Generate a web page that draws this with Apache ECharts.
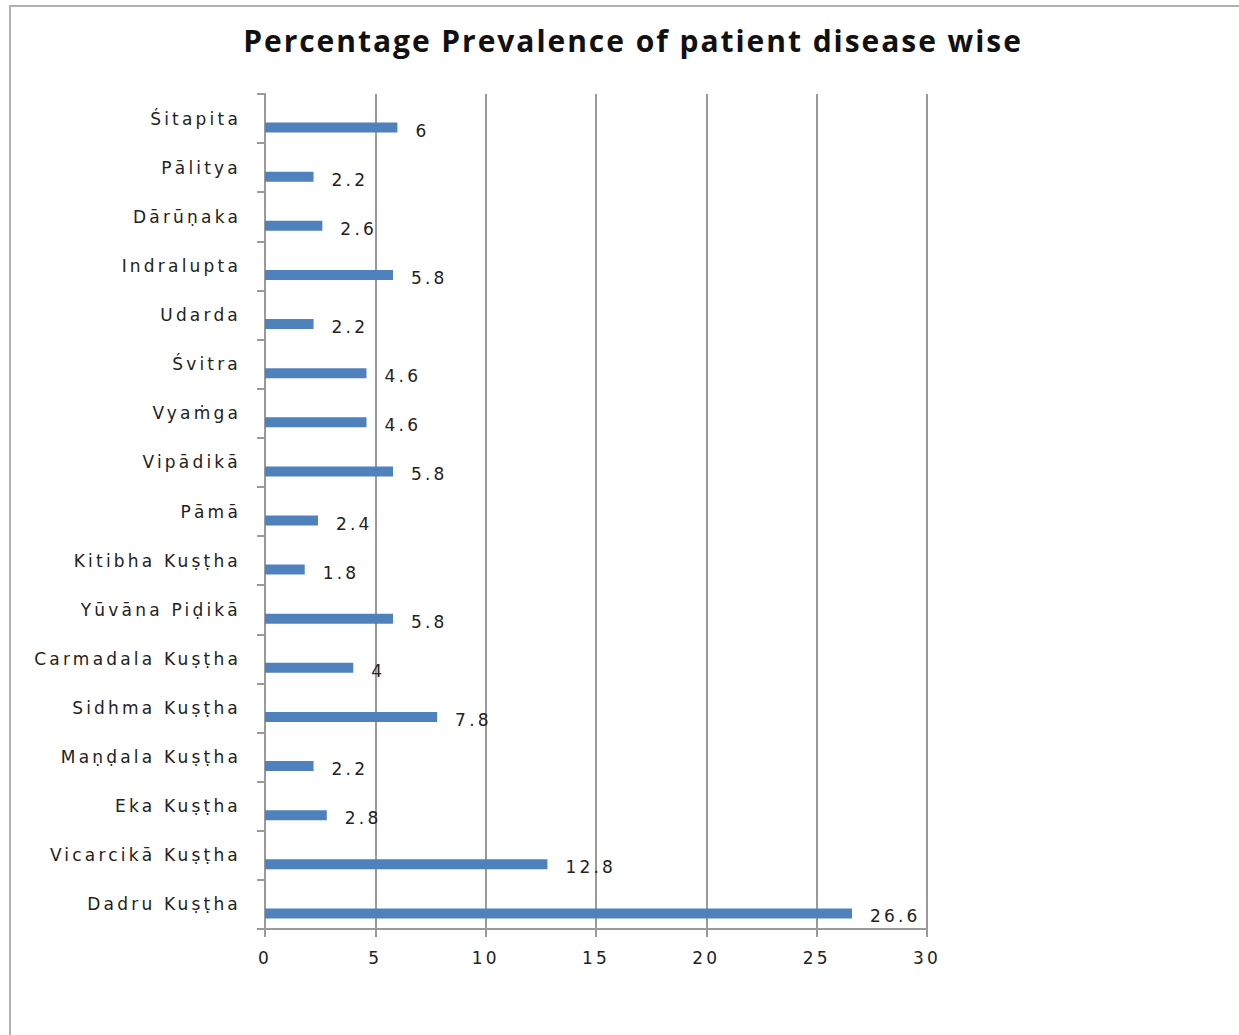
<!DOCTYPE html>
<html>
<head>
<meta charset="utf-8">
<title>Percentage Prevalence of patient disease wise</title>
<script src="https://cdn.jsdelivr.net/npm/echarts@6/dist/echarts.min.js"></script>
<style>
  html, body { margin: 0; padding: 0; background: #ffffff; }
  #chart { width: 1239px; height: 1035px; }
  #chart text { letter-spacing: 3.2px; }
  #chart text[style*="bold"] { letter-spacing: 1.95px; }
</style>
</head>
<body>
<div id="chart"></div>
<script>
// Diseases, listed from the bottom of the axis to the top
const diseases = [
  'Dadru Kuṣṭha', 'Vicarcikā Kuṣṭha', 'Eka Kuṣṭha', 'Maṇḍala Kuṣṭha',
  'Sidhma Kuṣṭha', 'Carmadala Kuṣṭha', 'Yūvāna Piḍikā', 'Kitibha Kuṣṭha',
  'Pāmā', 'Vipādikā', 'Vyaṁga', 'Śvitra', 'Udarda', 'Indralupta',
  'Dārūṇaka', 'Pālitya', 'Śitapita'
];
// Percentage of patients per disease
const prevalence = [26.6, 12.8, 2.8, 2.2, 7.8, 4, 5.8, 1.8, 2.4, 5.8, 4.6, 4.6, 2.2, 5.8, 2.6, 2.2, 6];
// Empty companion series, only used to push the real bars to the lower part of each band
const spacer = diseases.map(() => '-');

const chartTitle = 'Percentage Prevalence of patient disease wise';
const axisMin = 0, axisMax = 30, axisStep = 5;

const chart = echarts.init(document.getElementById('chart'), null, { renderer: 'svg' });

const labelFont = 'DejaVu Sans, Verdana, sans-serif';
const gridGray = '#9a9a9a';

chart.setOption({
  backgroundColor: '#ffffff',
  animation: false,
  title: {
    text: chartTitle,
    left: 628,
    textAlign: 'center',
    top: 20,
    textStyle: {
      fontFamily: 'Open Sans, DejaVu Sans, sans-serif',
      fontWeight: 'bold',
      fontSize: 30,
      color: '#111111'
    }
  },
  graphic: [{
    type: 'rect',
    shape: { x: 10, y: 6, width: 1400, height: 1200 },
    style: { fill: 'none', stroke: '#b0b0b0', lineWidth: 2 },
    silent: true,
    z: -1
  }],
  grid: { left: 265, right: 312, top: 94, bottom: 106, containLabel: false },
  xAxis: {
    type: 'value',
    min: axisMin,
    max: axisMax,
    interval: axisStep,
    axisLine: { show: true, lineStyle: { color: gridGray, width: 2 } },
    axisTick: { show: true, length: 8, lineStyle: { color: gridGray, width: 2 } },
    splitLine: { show: true, lineStyle: { color: gridGray, width: 2 } },
    axisLabel: {
      margin: 20,
      fontFamily: labelFont,
      fontSize: 17,
      color: '#222222'
    }
  },
  yAxis: {
    type: 'category',
    data: diseases,
    axisLine: { show: true, lineStyle: { color: gridGray, width: 2 } },
    axisTick: { show: true, length: 8, alignWithLabel: false, lineStyle: { color: gridGray, width: 2 } },
    splitLine: { show: false },
    axisLabel: {
      margin: 24,
      fontFamily: labelFont,
      fontSize: 17,
      color: '#222222'
    }
  },
  series: [
    {
      type: 'bar',
      data: spacer,
      barWidth: 10,
      barGap: '80%',
      silent: true,
      itemStyle: { color: 'rgba(0,0,0,0)' }
    },
    {
      type: 'bar',
      data: prevalence,
      barWidth: 10,
      barGap: '80%',
      itemStyle: { color: '#4f81bd' },
      label: {
        show: true,
        position: 'right',
        distance: 18,
        offset: [0, 3],
        fontFamily: labelFont,
        fontSize: 17,
        color: '#222222'
      }
    }
  ]
});
</script>
</body>
</html>
